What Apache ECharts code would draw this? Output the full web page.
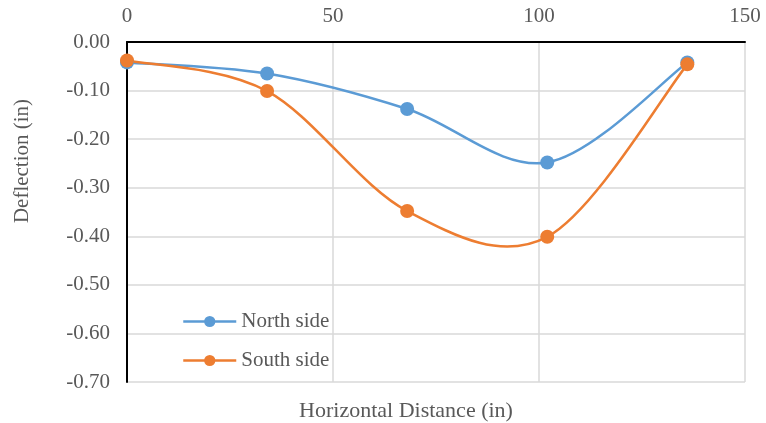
<!DOCTYPE html>
<html><head><meta charset="utf-8">
<script src="https://cdn.jsdelivr.net/npm/echarts@6/dist/echarts.min.js"></script>
<style>html,body{margin:0;padding:0;background:#fff}#c{width:766px;height:423px}</style>
</head><body><div id="c"></div>
<script>
const distances = [0, 34, 68, 102, 136];
const northSide = [-0.042, -0.065, -0.138, -0.248, -0.042];
const southSide = [-0.038, -0.101, -0.348, -0.401, -0.046];
const seriesNames = ['North side', 'South side'];
const xTitle = 'Horizontal Distance (in)';
const yTitle = 'Deflection (in)';

const colors = ['#5B9BD5', '#ED7D31'];
const font = 'Liberation Serif, Times New Roman, serif';
const chart = echarts.init(document.getElementById('c'));
const pair = (xs, ys) => xs.map((x, i) => [x, ys[i]]);

// Smooth curve (Catmull-Rom as cubic Bezier) drawn through the axis coordinates
function smoothRender(xs, ys, color) {
  return function (params, api) {
    if (params.dataIndex !== 0) return null;
    const p = xs.map((x, i) => api.coord([x, ys[i]]));
    const n = p.length;
    let d = 'M' + p[0][0] + ' ' + p[0][1];
    for (let i = 0; i < n - 1; i++) {
      const p0 = p[Math.max(i - 1, 0)], p1 = p[i], p2 = p[i + 1], p3 = p[Math.min(i + 2, n - 1)];
      const c1 = [p1[0] + (p2[0] - p0[0]) / 6, p1[1] + (p2[1] - p0[1]) / 6];
      const c2 = [p2[0] - (p3[0] - p1[0]) / 6, p2[1] - (p3[1] - p1[1]) / 6];
      d += ' C' + c1[0] + ' ' + c1[1] + ' ' + c2[0] + ' ' + c2[1] + ' ' + p2[0] + ' ' + p2[1];
    }
    return {type: 'path', shape: {pathData: d},
      style: {stroke: color, lineWidth: 2.5, fill: null}};
  };
}

const labelStyle = {fontFamily: font, fontSize: 21, color: '#595959'};
chart.setOption({
  animation: false,
  textStyle: {fontFamily: font},
  title: {text: xTitle, left: 401, textAlign: 'center', top: 395,
    textStyle: {fontFamily: font, fontSize: 22, fontWeight: 'normal', color: '#595959'}},
  graphic: [{
    type: 'text', x: 22, y: 161, rotation: Math.PI / 2,
    style: {text: yTitle, font: '21px ' + font, fill: '#595959',
      align: 'center', verticalAlign: 'middle'}
  }],
  grid: {left: 127, right: 21, top: 42, bottom: 41},
  legend: {
    orient: 'vertical', left: 177, top: 306, itemGap: 18,
    itemWidth: 53, itemHeight: 14,
    textStyle: labelStyle,
    data: seriesNames.map((s, i) => ({name: s, lineStyle: {color: colors[i], width: 2.5, opacity: 1}}))
  },
  xAxis: {
    type: 'value', position: 'top', min: 0, max: 150, interval: 50,
    axisLine: {onZero: false, lineStyle: {color: '#000', width: 2}},
    axisTick: {show: false},
    axisLabel: Object.assign({margin: 15}, labelStyle),
    splitLine: {lineStyle: {color: '#d9d9d9', width: 1.5}}
  },
  yAxis: {
    type: 'value', min: -0.7, max: 0, interval: 0.1,
    axisLine: {show: true, onZero: false, lineStyle: {color: '#000', width: 2}},
    axisTick: {show: false},
    axisLabel: Object.assign({margin: 17, formatter: v => v.toFixed(2)}, labelStyle),
    splitLine: {lineStyle: {color: '#d9d9d9', width: 1.5}}
  },
  series: [
    {type: 'custom', name: seriesNames[0] + ' curve', data: pair(distances, northSide),
      renderItem: smoothRender(distances, northSide, colors[0]), silent: true},
    {type: 'custom', name: seriesNames[1] + ' curve', data: pair(distances, southSide),
      renderItem: smoothRender(distances, southSide, colors[1]), silent: true},
    {name: seriesNames[0], type: 'line', data: pair(distances, northSide),
      symbol: 'circle', symbolSize: 14, color: colors[0], lineStyle: {width: 2.5, opacity: 0}, z: 5},
    {name: seriesNames[1], type: 'line', data: pair(distances, southSide),
      symbol: 'circle', symbolSize: 14, color: colors[1], lineStyle: {width: 2.5, opacity: 0}, z: 5}
  ]
});
</script></body></html>
